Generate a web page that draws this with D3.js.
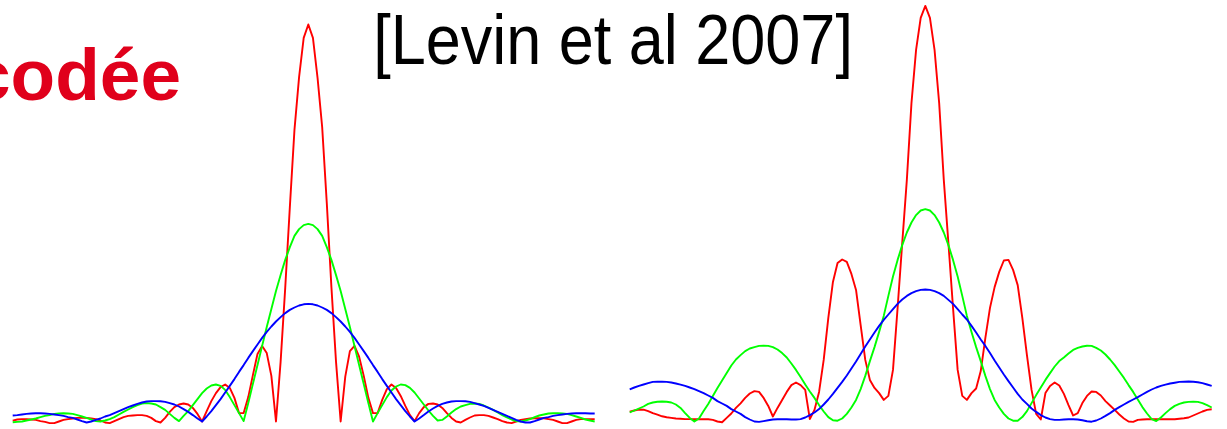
<!DOCTYPE html>
<html>
<head>
<meta charset="utf-8">
<script src="https://cdn.jsdelivr.net/npm/d3@7"></script>
<style>
  html, body { margin: 0; padding: 0; background: #ffffff; }
  svg { display: block; }
</style>
</head>
<body>
<svg id="chart" width="1227" height="429"></svg>
<script>
// Frequency bins (FFT-shifted index, 0 = DC)
const freqBins = d3.range(-64, 63);

// Spectrum magnitudes, conventional aperture, three blur scales
const convRed = [
  0.7, 1.0, 1.1, 1.1, 1.0, 0.9, 0.6, 0.4, 0.1, 0.1,
  0.5, 0.9, 1.1, 1.25, 1.4, 1.4, 1.4, 1.25, 1.1, 0.75,
  0.25, 0.1, 0.6, 1.1, 1.6, 1.9, 2.0, 2.1, 2.1, 1.9,
  1.4, 0.6, 0.25, 1.4, 2.9, 4.1, 4.75, 5.0, 4.75, 3.9,
  2.4, 0.5, 3.1, 5.6, 7.6, 9.1, 9.75, 8.9, 6.4, 2.6,
  2.6, 6.6, 12.1, 17.4, 19.4, 17.6, 11.9, 0.5, 15.4, 33.9,
  54.1, 73.4, 86.6, 96.4, 99.75, 96.4, 86.4, 74.1, 55.1, 34.1,
  15.4, 0.5, 11.7, 18.1, 19.4, 16.7, 11.9, 6.4, 2.6, 2.6,
  5.9, 8.6, 9.75, 8.9, 6.9, 4.4, 2.1, 0.6, 2.6, 4.1,
  4.9, 5.0, 4.75, 3.9, 2.6, 1.4, 0.5, 0.25, 0.9, 1.5,
  2.0, 2.1, 2.1, 1.9, 1.5, 1.1, 0.6, 0.25, 0.1, 0.5,
  0.9, 1.1, 1.25, 1.3, 1.3, 1.3, 1.1, 0.9, 0.5, 0.1,
  0.1, 0.5, 0.9, 1.1, 1.1, 1.1, 1.1
];
const convGreen = [
  0.3, 0.4, 0.5, 0.75, 1.0, 1.25, 1.6, 1.9, 2.1, 2.4,
  2.5, 2.55, 2.5, 2.4, 2.1, 1.75, 1.4, 1.0, 0.6, 0.5,
  0.75, 1.1, 1.6, 2.25, 2.9, 3.5, 4.1, 4.6, 5.0, 5.1,
  5.0, 4.75, 4.1, 3.4, 2.4, 1.4, 0.6, 1.9, 3.1, 4.6,
  6.1, 7.6, 8.75, 9.5, 9.75, 9.4, 8.4, 6.6, 4.6, 2.6,
  0.6, 5.1, 9.9, 14.6, 19.4, 24.1, 28.6, 33.1, 37.1, 40.9,
  44.1, 46.9, 48.6, 49.6, 49.9, 49.6, 48.6, 46.9, 44.1, 40.9,
  37.1, 33.1, 28.6, 24.1, 19.4, 14.6, 9.9, 5.1, 0.5, 2.6,
  4.6, 6.6, 8.25, 9.25, 9.75, 9.6, 8.9, 7.75, 6.25, 4.75,
  3.25, 1.9, 0.75, 0.9, 1.75, 2.75, 3.6, 4.25, 4.6, 4.9,
  5.0, 4.9, 4.5, 4.0, 3.4, 2.75, 2.1, 1.5, 1.0, 0.6,
  0.5, 0.75, 1.1, 1.6, 2.0, 2.25, 2.5, 2.55, 2.55, 2.5,
  2.4, 2.1, 1.75, 1.4, 1.0, 0.75, 0.5
];
const convBlue = [
  2.0, 2.1, 2.25, 2.4, 2.5, 2.55, 2.55, 2.5, 2.4, 2.25,
  2.1, 1.9, 1.6, 1.4, 1.0, 0.6, 0.25, 0.5, 0.9, 1.25,
  1.75, 2.1, 2.6, 3.1, 3.6, 4.1, 4.5, 4.9, 5.25, 5.5,
  5.6, 5.6, 5.55, 5.4, 5.1, 4.75, 4.25, 3.6, 2.9, 2.1,
  1.25, 0.5, 1.75, 3.1, 4.6, 6.1, 7.75, 9.4, 11.1, 12.9,
  14.6, 16.4, 18.1, 19.75, 21.4, 22.9, 24.25, 25.5, 26.6, 27.6,
  28.4, 29.0, 29.5, 29.8, 29.9, 29.8, 29.5, 29.0, 28.4, 27.6,
  26.6, 25.5, 24.25, 22.9, 21.4, 19.75, 18.1, 16.4, 14.6, 12.9,
  11.1, 9.4, 7.75, 6.1, 4.6, 3.1, 1.75, 0.5, 1.25, 2.1,
  3.0, 3.75, 4.4, 4.9, 5.25, 5.5, 5.6, 5.6, 5.55, 5.4,
  5.1, 4.75, 4.4, 3.9, 3.4, 2.9, 2.4, 1.9, 1.4, 0.9,
  0.5, 0.25, 0.25, 0.6, 1.0, 1.4, 1.6, 1.9, 2.1, 2.25,
  2.4, 2.5, 2.55, 2.55, 2.55, 2.5, 2.5
];

// Spectrum magnitudes, coded aperture, same three blur scales
const codedRed = [
  2.95, 3.25, 3.5, 3.45, 3.1, 2.6, 2.2, 1.8, 1.55, 1.4,
  1.25, 1.2, 1.1, 1.1, 1.05, 1.05, 1.05, 1.05, 0.9, 0.5,
  0.3, 1.4, 2.5, 3.9, 5.05, 6.4, 7.5, 8.1, 7.9, 6.4,
  4.4, 1.75, 3.9, 5.9, 7.9, 9.6, 10.25, 9.6, 8.4, 1.1,
  3.4, 7.9, 15.9, 26.4, 35.4, 40.1, 41.0, 40.4, 37.4, 33.4,
  24.6, 15.9, 10.9, 8.9, 7.6, 5.9, 6.9, 13.4, 28.9, 45.1,
  60.9, 80.1, 93.4, 101.4, 104.4, 101.4, 93.4, 80.1, 60.9, 45.1,
  28.9, 13.4, 6.9, 5.9, 7.6, 8.75, 13.1, 21.4, 28.9, 34.1,
  37.9, 40.75, 40.9, 38.4, 34.6, 26.4, 17.1, 8.4, 2.4, 1.0,
  7.6, 9.4, 10.25, 9.5, 7.4, 4.6, 2.0, 2.6, 5.1, 6.9,
  8.0, 7.9, 7.0, 5.6, 4.5, 3.4, 2.25, 1.25, 0.5, 0.4,
  0.9, 1.0, 1.05, 1.05, 1.05, 1.05, 1.05, 1.05, 1.05, 1.2,
  1.3, 1.5, 2.0, 2.5, 3.0, 3.4, 3.55
];
const codedGreen = [
  2.75, 3.25, 3.75, 4.25, 4.9, 5.25, 5.45, 5.5, 5.45, 5.25,
  4.75, 3.9, 2.6, 1.4, 0.5, 1.25, 3.1, 4.9, 6.9, 8.9,
  10.75, 12.6, 14.5, 16.0, 17.1, 18.1, 18.75, 19.1, 19.4, 19.45,
  19.4, 19.1, 18.5, 17.6, 16.5, 15.0, 13.4, 11.6, 9.75, 8.0,
  6.4, 4.6, 3.0, 1.6, 0.8, 0.7, 1.25, 2.4, 4.0, 5.9,
  8.6, 11.9, 15.6, 19.1, 22.9, 26.9, 31.9, 36.75, 40.9, 44.6,
  47.75, 50.25, 52.1, 53.25, 53.6, 53.25, 52.1, 50.25, 47.75, 44.6,
  40.9, 36.75, 31.9, 26.9, 22.9, 19.1, 15.6, 11.9, 8.6, 5.9,
  4.0, 2.4, 1.25, 0.7, 0.7, 1.6, 3.1, 5.1, 7.1, 9.0,
  10.9, 12.6, 14.25, 15.6, 16.5, 17.5, 18.4, 18.9, 19.25, 19.45,
  19.4, 18.9, 18.25, 17.25, 16.0, 14.6, 13.0, 11.4, 9.6, 7.9,
  6.0, 4.1, 2.5, 1.1, 0.6, 1.5, 2.6, 3.6, 4.4, 4.9,
  5.25, 5.4, 5.45, 5.4, 5.1, 4.6, 4.0
];
const codedBlue = [
  8.55, 9.0, 9.4, 9.75, 10.1, 10.4, 10.45, 10.45, 10.4, 10.25,
  10.0, 9.7, 9.4, 9.0, 8.6, 8.1, 7.6, 7.0, 6.4, 5.6,
  5.0, 4.4, 3.6, 3.0, 2.4, 1.6, 1.0, 0.5, 0.4, 0.6,
  0.8, 1.0, 1.05, 1.05, 1.05, 1.0, 1.0, 1.1, 1.5, 2.1,
  2.75, 3.6, 4.75, 6.0, 7.4, 8.9, 10.4, 12.0, 13.75, 15.5,
  17.4, 19.25, 21.0, 22.75, 24.4, 25.9, 27.25, 28.6, 29.9, 31.0,
  31.9, 32.6, 33.1, 33.4, 33.5, 33.4, 33.1, 32.6, 31.9, 30.9,
  29.9, 28.6, 27.25, 26.0, 24.4, 22.75, 21.0, 19.4, 17.6, 15.75,
  14.0, 12.25, 10.6, 9.0, 7.4, 6.0, 4.9, 3.75, 2.9, 2.1,
  1.5, 1.1, 0.9, 0.9, 1.0, 1.05, 1.05, 1.0, 0.8, 0.55,
  0.45, 0.75, 1.25, 1.9, 2.6, 3.4, 4.1, 4.75, 5.4, 6.0,
  6.6, 7.25, 7.9, 8.5, 9.0, 9.4, 9.7, 10.0, 10.2, 10.4,
  10.45, 10.5, 10.45, 10.3, 10.1, 9.75, 9.4
];

const seriesColors = ["#ff0000", "#00ff00", "#0000ff"];
const titleText = "[Levin et al 2007]";
const sideText = "codée";

const svg = d3.select("#chart");

// shared vertical scale for both spectra
const y = d3.scaleLinear().domain([0, 100]).range([423.5, 23.5]);

const panels = [
  { range: [12.7, 594.7], series: [convRed, convGreen, convBlue] },
  { range: [629.7, 1211.7], series: [codedRed, codedGreen, codedBlue] }
];

panels.forEach(p => {
  const x = d3.scaleLinear().domain([d3.min(freqBins), d3.max(freqBins)]).range(p.range);
  const line = d3.line()
    .x((d, i) => x(freqBins[i]))
    .y(d => y(d))
    .curve(d3.curveLinear);
  const g = svg.append("g");
  p.series.forEach((vals, i) => {
    g.append("path")
      .datum(vals)
      .attr("d", line)
      .attr("fill", "none")
      .attr("stroke", seriesColors[i])
      .attr("stroke-width", 1.9)
      .attr("stroke-linejoin", "round");
  });
});

// title
svg.append("text")
  .attr("transform", "translate(613,64) scale(0.9,1)")
  .attr("text-anchor", "middle")
  .attr("font-family", "Liberation Sans, Arial, sans-serif")
  .attr("font-size", 70)
  .attr("fill", "#000000")
  .text(titleText);

// red heading fragment at the left edge
svg.append("text")
  .attr("transform", "translate(181,100)")
  .attr("text-anchor", "end")
  .attr("font-family", "Liberation Sans, Arial, sans-serif")
  .attr("font-weight", "bold")
  .attr("font-size", 73)
  .attr("fill", "#e0001b")
  .text(sideText);
</script>
</body>
</html>
